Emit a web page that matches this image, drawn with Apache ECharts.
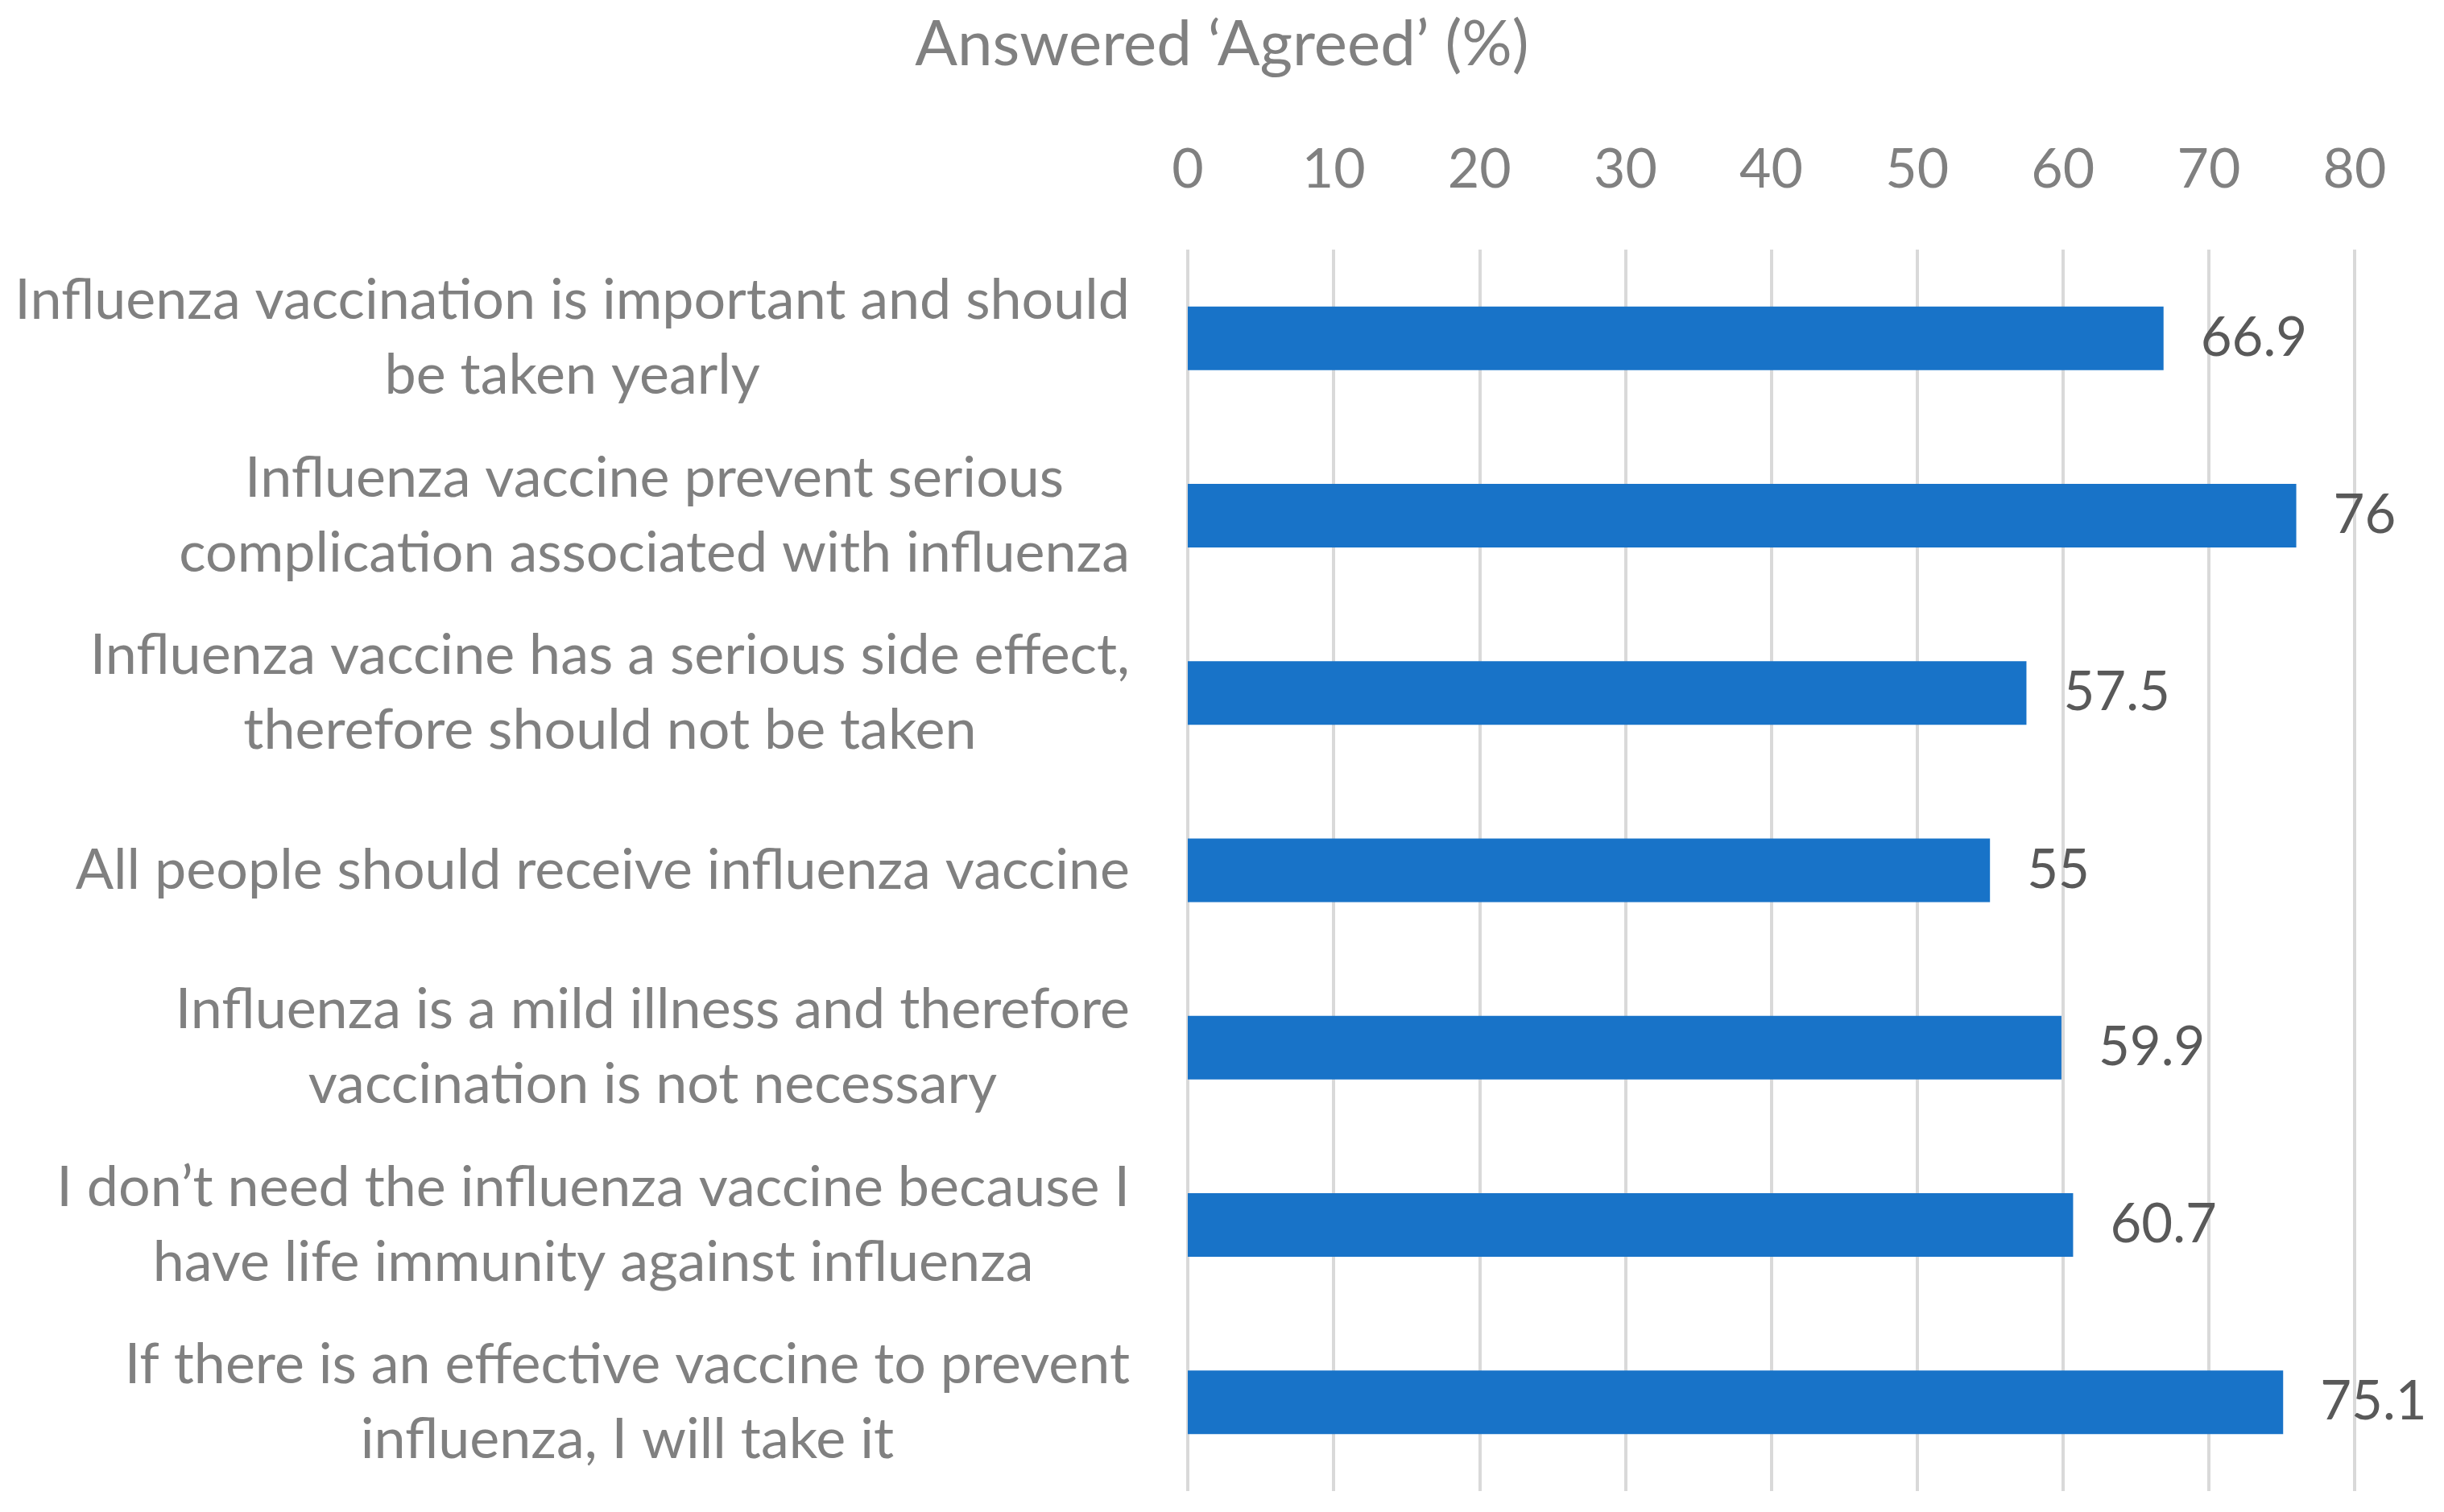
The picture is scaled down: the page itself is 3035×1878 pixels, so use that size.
<!DOCTYPE html>
<html>
<head>
<meta charset="utf-8">
<script src="https://cdn.jsdelivr.net/npm/echarts@6/dist/echarts.min.js"></script>
<style>
  html, body { margin: 0; padding: 0; background: #fff; }
  #main { width: 3035px; height: 1878px; }
</style>
</head>
<body>
<div id="main"></div>
<script>
// statements, top to bottom, with manual line breaks as in the picture
var categories = [
  'Influenza vaccination is important and should\nbe taken yearly',
  'Influenza vaccine prevent serious\ncomplication associated with influenza',
  'Influenza vaccine has a serious side effect,\ntherefore should not be taken',
  'All people should receive influenza vaccine',
  'Influenza is a mild illness and therefore\nvaccination is not necessary',
  'I don\u2019t need the influenza vaccine because I\nhave life immunity against influenza',
  'If there is an effective vaccine to prevent\ninfluenza, I will take it'
];
var agreed = [66.9, 76, 57.5, 55, 59.9, 60.7, 75.1];
var axisMin = 0;
var axisMax = 80;
var axisStep = 10;
var titleText = 'Answered \u2018Agreed\u2019 (%)';

var font = 'Lato, "Open Sans", sans-serif';

var chart = echarts.init(document.getElementById('main'));
chart.setOption({
  backgroundColor: '#ffffff',
  animation: false,
  title: {
    text: titleText,
    left: 'center',
    top: 12,
    textStyle: { color: '#808080', fontFamily: font, fontWeight: 'normal', fontSize: 78 }
  },
  grid: { left: 1475, right: 111, top: 310, bottom: 26 },
  xAxis: {
    type: 'value',
    position: 'top',
    min: axisMin,
    max: axisMax,
    interval: axisStep,
    axisLine: { show: false },
    axisTick: { show: false },
    axisLabel: { color: '#808080', fontFamily: font, fontSize: 68, margin: 65 },
    splitLine: { show: true, lineStyle: { color: '#d9d9d9', width: 4 } }
  },
  yAxis: {
    type: 'category',
    inverse: true,
    data: categories,
    axisLine: { show: false },
    axisTick: { show: false },
    axisLabel: {
      margin: 72,
      align: 'right',
      formatter: function (v) {
        return v.split('\n').map(function (s) { return '{c|' + s + '}'; }).join('\n');
      },
      rich: {
        c: { align: 'center', color: '#808080', fontFamily: font, fontSize: 70, lineHeight: 93 }
      }
    }
  },
  series: [{
    type: 'bar',
    data: agreed,
    barWidth: 79,
    itemStyle: { color: '#1873c8' },
    label: {
      show: true,
      position: 'right',
      distance: 46,
      color: '#595959',
      fontFamily: font,
      fontSize: 67
    }
  }]
});
</script>
</body>
</html>
